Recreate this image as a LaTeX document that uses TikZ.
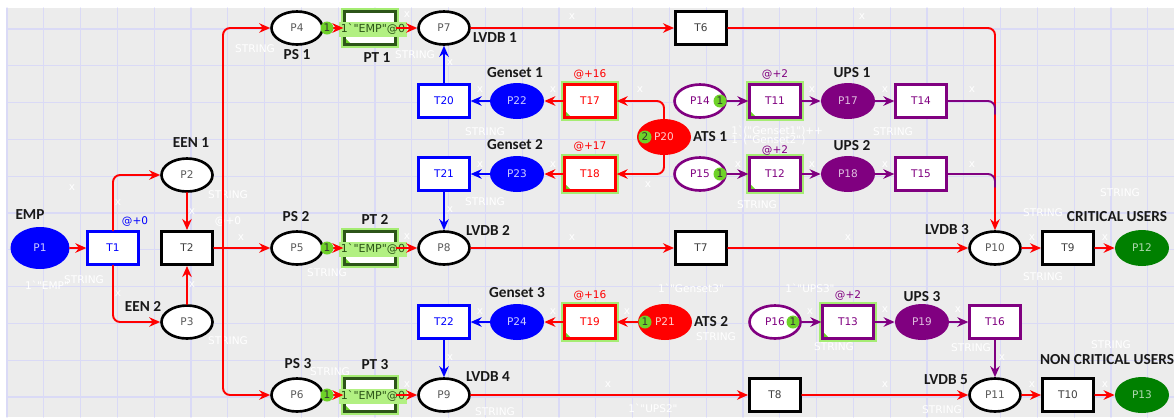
\documentclass[tikz,border=0pt]{standalone}
\usepackage{fontspec}
\newfontfamily\nodefont{DejaVu Sans}
\newfontfamily\inscfont{DejaVu Sans}[Ligatures=TeXOff]
\newfontfamily\lblfont{Carlito}
\usepackage{tikz}
\usetikzlibrary{arrows.meta,shapes.geometric}
\usepackage{xcolor}
\definecolor{bggray}{RGB}{236,236,236}
\definecolor{gridc}{RGB}{218,218,246}
\definecolor{cpnpurple}{RGB}{128,0,128}
\definecolor{cpngreen}{RGB}{0,128,0}
\definecolor{tokgreen}{RGB}{110,210,40}
\definecolor{glowgreen}{RGB}{165,236,115}
\definecolor{inscgreen}{RGB}{178,240,130}
\definecolor{ptgreen}{RGB}{45,85,25}
\tikzset{
  place/.style={ellipse,draw=black,line width=1.5pt,fill=white,minimum width=1.02cm,minimum height=0.66cm,inner sep=0pt,font=\nodefont\fontsize{6}{7}\selectfont,text=black!65},
  fplace/.style={ellipse,fill=#1,minimum width=1.08cm,minimum height=0.72cm,inner sep=0pt,font=\nodefont\fontsize{6}{7}\selectfont},
  trans/.style={rectangle,draw=#1,line width=1.3pt,fill=white,minimum width=1.02cm,minimum height=0.66cm,inner sep=0pt,font=\nodefont\fontsize{6}{7}\selectfont,text=#1},
  gtrans/.style={trans=#1,preaction={draw=glowgreen,line width=3.8pt},
    path picture={\fill[tokgreen] (path picture bounding box.south west) -- ++(4pt,0pt) -- ++(-4pt,4pt) -- cycle;}},
  tok/.style={circle,fill=tokgreen,inner sep=0pt,minimum size=0.26cm,font=\nodefont\fontsize{6}{7}\selectfont,text=black!80},
  insc/.style={fill=inscgreen,inner sep=0pt,minimum width=1.36cm,minimum height=0.3cm,font=\inscfont\fontsize{6.3}{7}\selectfont,text=ptgreen},
  lbl/.style={font=\lblfont\bfseries\fontsize{8.7}{10}\selectfont,text=black!90},
  delay/.style={font=\nodefont\fontsize{6}{7}\selectfont,text=#1},
  faint/.style={font=\inscfont\fontsize{6}{7}\selectfont,text=white,inner sep=0pt},
  flow/.style={draw=#1,line width=1.1pt,->,rounded corners=4pt},
}
\begin{document}
\begin{tikzpicture}[x=0.02cm,y=-0.02cm,>={Stealth[length=2.2mm,width=1.9mm]},line cap=round]
\useasboundingbox (0,0) rectangle (1174,417);
% sheet and grid
\fill[bggray] (7,8) rectangle (1174,417);
\foreach \i in {0,...,31} \draw[gridc,line width=0.7pt] (7+36.8*\i,8) -- (7+36.8*\i,417);
\foreach \j in {0,...,10} \draw[gridc,line width=0.7pt] (7,29+36.8*\j) -- (1174,29+36.8*\j);
% faint inscriptions
\foreach \x/\y [count=\i] in {72/188,118/203,118/294,192/212,192/285,241/238,407/15,450/63,480/90,553/90,480/165,553/165,450/210,407/237,480/312,553/312,450/358,407/385,572/17,862/17,640/90,812/90,738/165,812/165,648/185,572/238,848/238,627/312,810/312,608/385,885/90,972/90,885/165,972/165,1032/238,1105/238,885/310,958/310,1002/358,885/385,1032/385,1105/385}
  \node[faint] (fx\i) at (\x,\y) {x};
\foreach \x/\y [count=\i] in {255/49,228/195,84/280,228/341,415/55,485/132,485/202,327/273,330/372,495/412,757/205,716/337,834/347,893/132,1120/193,1043/213,1043/277,971/348,1111/345,942/410}
  \node[faint] (fs\i) at (\x,\y) {STRING};
\node[faint] (fe1) at (47,285) {1`"EMP"};
\node[faint] (ft2) at (228,221) {@+0};
\node[faint,anchor=west] (fg1) at (731,131) {1`("Genset1")++};
\node[faint,anchor=west] (fg2) at (731,140) {1`("Genset2")};
\node[faint] (fg3) at (691,288) {1`"Genset3"};
\node[faint] (fu3) at (810,288) {1`"UPS3"};
\node[faint] (fu2) at (653,408) {1`"UPS2"};
% places and transitions
\node[fplace=blue,minimum width=1.18cm,minimum height=0.84cm,text=blue!20] (P1) at (40,248) {P1};
\node[trans=blue] (T1) at (113,248) {T1};
\node[trans=black,line width=1.7pt,text=black!75] (T2) at (187,248) {T2};
\node[place] (P2) at (187,175) {P2};
\node[place] (P3) at (187,322) {P3};
\coordinate (split) at (223,248);
\node[place] (P4) at (297,28) {P4};
\node[gtrans=ptgreen] (PT1) at (370,28) {};
\node[place] (P7) at (444,28) {P7};
\node[place] (P5) at (297,248) {P5};
\node[gtrans=ptgreen] (PT2) at (370,248) {};
\node[place] (P8) at (444,248) {P8};
\node[place] (P6) at (297,395) {P6};
\node[gtrans=ptgreen] (PT3) at (370,395) {};
\node[place] (P9) at (444,395) {P9};
\node[trans=black,line width=1.7pt,text=black!75] (T6) at (701,28) {T6};
\node[trans=black,line width=1.7pt,text=black!75] (T7) at (701,248) {T7};
\node[trans=black,line width=1.7pt,text=black!75] (T8) at (775,395) {T8};
\node[trans=blue] (T20) at (444,101) {T20};
\node[fplace=blue,text=blue!20] (P22) at (517,101) {P22};
\node[gtrans=red] (T17) at (590,101) {T17};
\node[trans=blue] (T21) at (444,174) {T21};
\node[fplace=blue,text=blue!20] (P23) at (517,174) {P23};
\node[gtrans=red] (T18) at (590,174) {T18};
\node[trans=blue] (T22) at (444,322) {T22};
\node[fplace=blue,text=blue!20] (P24) at (517,322) {P24};
\node[gtrans=red] (T19) at (590,322) {T19};
\node[fplace=red,text=red!20] (P20) at (664,137) {P20};
\node[fplace=red,text=red!20] (P21) at (665,322) {P21};
\node[place,draw=cpnpurple,text=cpnpurple] (P14) at (700,101) {P14};
\node[gtrans=cpnpurple] (T11) at (775,101) {T11};
\node[fplace=cpnpurple,text=cpnpurple!25] (P17) at (848,101) {P17};
\node[trans=cpnpurple] (T14) at (921,101) {T14};
\node[place,draw=cpnpurple,text=cpnpurple] (P15) at (700,174) {P15};
\node[gtrans=cpnpurple] (T12) at (775,174) {T12};
\node[fplace=cpnpurple,text=cpnpurple!25] (P18) at (848,174) {P18};
\node[trans=cpnpurple] (T15) at (921,174) {T15};
\node[place,draw=cpnpurple,text=cpnpurple] (P16) at (775,322) {P16};
\node[gtrans=cpnpurple] (T13) at (848,322) {T13};
\node[fplace=cpnpurple,text=cpnpurple!25] (P19) at (922,322) {P19};
\node[trans=cpnpurple] (T16) at (995,322) {T16};
\coordinate (m14) at (995,114);
\coordinate (m15) at (995,187);
\node[place] (P10) at (995,248) {P10};
\node[trans=black,line width=1.7pt,text=black!75] (T9) at (1068,248) {T9};
\node[fplace=cpngreen,text=cpngreen!30] (P12) at (1142,248) {P12};
\node[place] (P11) at (995,395) {P11};
\node[trans=black,line width=1.7pt,text=black!75] (T10) at (1068,395) {T10};
\node[fplace=cpngreen,text=cpngreen!30] (P13) at (1142,395) {P13};
% transformer inscriptions
\node[insc] (I1) at (373,29) {1`"EMP"@0};
\node[insc] (I2) at (373,249) {1`"EMP"@0};
\node[insc] (I3) at (373,396) {1`"EMP"@0};
% arcs
\draw[flow=red] (P1) -- (T1);
\draw[flow=red] (T1) |- (P2);
\draw[flow=red] (T1) |- (P3);
\draw[flow=red] (P2) -- (T2);
\draw[flow=red] (P3) -- (T2);
\draw[flow=red,-] (T2) -- (split);
\draw[flow=red] (split) |- (P4);
\draw[flow=red] (split) -- (P5);
\draw[flow=red] (split) |- (P6);
\draw[flow=red] (P4) -- (PT1);
\draw[flow=red] (PT1) -- (P7);
\draw[flow=red] (P5) -- (PT2);
\draw[flow=red] (PT2) -- (P8);
\draw[flow=red] (P6) -- (PT3);
\draw[flow=red] (PT3) -- (P9);
\draw[flow=red] (P7) -- (T6);
\draw[flow=red] (T6) -| (P10);
\draw[flow=red] (P8) -- (T7);
\draw[flow=red] (T7) -- (P10);
\draw[flow=red] (P9) -- (T8);
\draw[flow=red] (T8) -- (P11);
\draw[flow=red] (P10) -- (T9);
\draw[flow=red] (T9) -- (P12);
\draw[flow=red] (P11) -- (T10);
\draw[flow=red] (T10) -- (P13);
\draw[flow=red] (P20) |- (T17);
\draw[flow=red] (P20) |- (T18);
\draw[flow=red] (P21) -- (T19);
\draw[flow=red] (T17) -- (P22);
\draw[flow=red] (T18) -- (P23);
\draw[flow=red] (T19) -- (P24);
\draw[flow=blue] (P22) -- (T20);
\draw[flow=blue] (P23) -- (T21);
\draw[flow=blue] (P24) -- (T22);
\draw[flow=blue] (T20) -- (P7);
\draw[flow=blue] (T21) -- (P8);
\draw[flow=blue] (T22) -- (P9);
\draw[flow=cpnpurple] (P14) -- (T11);
\draw[flow=cpnpurple] (T11) -- (P17);
\draw[flow=cpnpurple] (P17) -- (T14);
\draw[flow=cpnpurple,-] (T14) -| (m14);
\draw[flow=cpnpurple] (P15) -- (T12);
\draw[flow=cpnpurple] (T12) -- (P18);
\draw[flow=cpnpurple] (P18) -- (T15);
\draw[flow=cpnpurple,-] (T15) -| (m15);
\draw[flow=cpnpurple] (P16) -- (T13);
\draw[flow=cpnpurple] (T13) -- (P19);
\draw[flow=cpnpurple] (P19) -- (T16);
\draw[flow=cpnpurple] (T16) -- (P11);
% tokens
\node[tok] (k4) at (327,28) {1};
\node[tok] (k5) at (327,248) {1};
\node[tok] (k6) at (327,395) {1};
\node[tok] (k20) at (645,137) {2};
\node[tok] (k21) at (645,322) {1};
\node[tok] (k14) at (720,101) {1};
\node[tok] (k15) at (720,174) {1};
\node[tok] (k16) at (793,322) {1};
% delays
\node[delay=blue] (d1) at (135,221) {@+0};
\node[delay=red] (d17) at (590,74) {@+16};
\node[delay=red] (d18) at (590,147) {@+17};
\node[delay=red] (d19) at (590,295) {@+16};
\node[delay=cpnpurple] (d11) at (775,74) {@+2};
\node[delay=cpnpurple] (d12) at (775,150) {@+2};
\node[delay=cpnpurple] (d13) at (848,295) {@+2};
% names
\node[lbl] (lEMP) at (30,215) {EMP};
\node[lbl] (lEEN1) at (191,143) {EEN 1};
\node[lbl] (lEEN2) at (143,306) {EEN 2};
\node[lbl] (lPS1) at (297,55) {PS 1};
\node[lbl] (lPT1) at (377,58) {PT 1};
\node[lbl] (lLV1) at (495,38) {LVDB 1};
\node[lbl] (lPS2) at (296,217) {PS 2};
\node[lbl] (lPT2) at (375,219) {PT 2};
\node[lbl] (lLV2) at (488,230) {LVDB 2};
\node[lbl] (lPS3) at (298,364) {PS 3};
\node[lbl] (lPT3) at (375,365) {PT 3};
\node[lbl] (lLV4) at (488,377) {LVDB 4};
\node[lbl] (lG1) at (515,73) {Genset 1};
\node[lbl] (lG2) at (515,145) {Genset 2};
\node[lbl] (lG3) at (517,293) {Genset 3};
\node[lbl] (lATS1) at (710,137) {ATS 1};
\node[lbl] (lATS2) at (711,322) {ATS 2};
\node[lbl] (lUPS1) at (852,73) {UPS 1};
\node[lbl] (lUPS2) at (852,146) {UPS 2};
\node[lbl] (lUPS3) at (922,297) {UPS 3};
\node[lbl] (lLV3) at (947,230) {LVDB 3};
\node[lbl] (lLV5) at (946,380) {LVDB 5};
\node[lbl] (lCU) at (1117,217) {CRITICAL USERS};
\node[lbl] (lNCU) at (1107,360) {NON CRITICAL USERS};
\end{tikzpicture}
\end{document}
